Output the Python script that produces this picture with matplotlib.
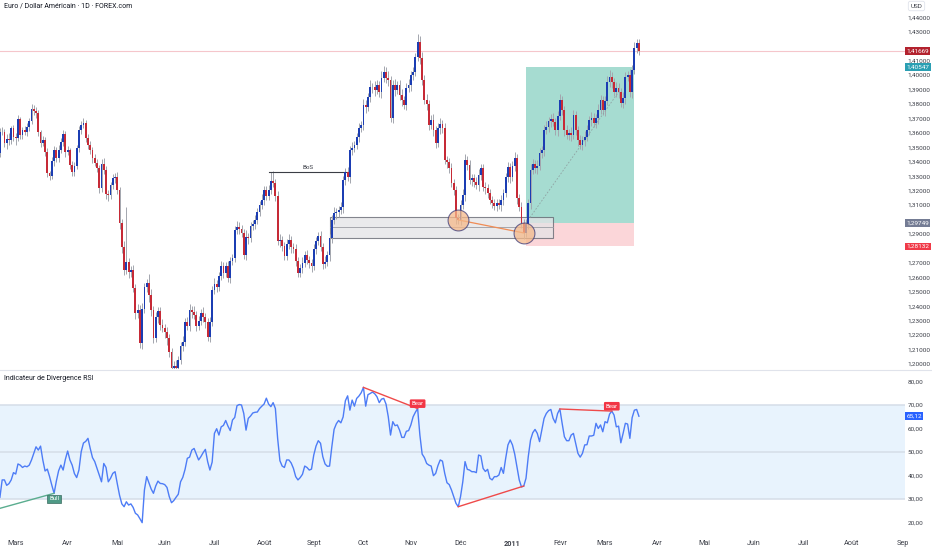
import numpy as np
import pandas as pd
import matplotlib
matplotlib.use("Agg")
import matplotlib.pyplot as plt
from matplotlib.lines import Line2D
from matplotlib.patches import Rectangle

plt.rcParams['font.family'] = ['Roboto', 'DejaVu Sans']

# daily EUR/USD candles, first one on 18 Feb 2010 (business days)
first_date = '2010-02-18'
first_open = 1.3463
closes = [
    1.3608, 1.3606, 1.3530, 1.3557, 1.3551, 1.3634, 1.3571, 1.3564, 1.3696, 1.3585,
    1.3620, 1.3606, 1.3641, 1.3682, 1.3765, 1.3751, 1.3738, 1.3606, 1.3530, 1.3551,
    1.3467, 1.3322, 1.3301, 1.3405, 1.3481, 1.3426, 1.3481, 1.3537, 1.3592, 1.3467,
    1.3481, 1.3377, 1.3329, 1.3370, 1.3495, 1.3620, 1.3654, 1.3668, 1.3564, 1.3516,
    1.3481, 1.3426, 1.3391, 1.3357, 1.3218, 1.3384, 1.3343, 1.3177, 1.3170, 1.3239,
    1.3287, 1.3294, 1.3204, 1.2976, 1.2810, 1.2650, 1.2706, 1.2636, 1.2650, 1.2526,
    1.2353, 1.2373, 1.2145, 1.2380, 1.2533, 1.2560, 1.2477, 1.2373, 1.2179, 1.2325,
    1.2366, 1.2269, 1.2249, 1.2221, 1.2179, 1.2082, 1.1972, 1.1985, 1.1972, 1.2027,
    1.2124, 1.2152, 1.2290, 1.2262, 1.2373, 1.2359, 1.2339, 1.2262, 1.2297, 1.2353,
    1.2325, 1.2290, 1.2186, 1.2290, 1.2512, 1.2553, 1.2533, 1.2609, 1.2678, 1.2630,
    1.2678, 1.2595, 1.2713, 1.2733, 1.2927, 1.2948, 1.2934, 1.2907, 1.2754, 1.2879,
    1.2872, 1.2955, 1.2969, 1.2997, 1.3052, 1.3100, 1.3135, 1.3204, 1.3163, 1.3204,
    1.3267, 1.3253, 1.3163, 1.2851, 1.2858, 1.2816, 1.2747, 1.2830, 1.2858, 1.2810,
    1.2796, 1.2713, 1.2630, 1.2664, 1.2699, 1.2754, 1.2720, 1.2699, 1.2678, 1.2796,
    1.2851, 1.2886, 1.2810, 1.2692, 1.2706, 1.2754, 1.2872, 1.2997, 1.3045, 1.3052,
    1.3066, 1.3087, 1.3274, 1.3329, 1.3294, 1.3481, 1.3495, 1.3516, 1.3571, 1.3634,
    1.3654, 1.3793, 1.3779, 1.3848, 1.3918, 1.3918, 1.3897, 1.3931, 1.3883, 1.3980,
    1.4021, 1.3980, 1.3966, 1.3703, 1.3931, 1.3897, 1.3931, 1.3862, 1.3828, 1.3793,
    1.3911, 1.3931, 1.4001, 1.4021, 1.4125, 1.4229, 1.4118, 1.3966, 1.3828, 1.3800,
    1.3654, 1.3689, 1.3620, 1.3530, 1.3634, 1.3661, 1.3634, 1.3412, 1.3398, 1.3357,
    1.3253, 1.3204, 1.3010, 1.2997, 1.3100, 1.3170, 1.3412, 1.3377, 1.3274, 1.3287,
    1.3260, 1.3239, 1.3308, 1.3357, 1.3225, 1.3218, 1.3184, 1.3135, 1.3114, 1.3093,
    1.3114, 1.3100, 1.3135, 1.3184, 1.3294, 1.3364, 1.3294, 1.3370, 1.3426, 1.3149,
    1.3087, 1.2976, 1.2907, 1.2969, 1.3114, 1.3343, 1.3384, 1.3357, 1.3370, 1.3460,
    1.3481, 1.3620, 1.3641, 1.3682, 1.3696, 1.3675, 1.3620, 1.3717, 1.3828, 1.3758,
    1.3620, 1.3585, 1.3599, 1.3585, 1.3724, 1.3620, 1.3551, 1.3516, 1.3551, 1.3571,
    1.3620, 1.3689, 1.3703, 1.3668, 1.3703, 1.3758, 1.3828, 1.3758, 1.3821, 1.3952,
    1.3987, 1.3952, 1.3883, 1.3911, 1.3883, 1.3807, 1.3841, 1.3987, 1.4001, 1.3883,
    1.4035, 1.4188, 1.4222, 1.41669,
]
# wick length above / below the body, in pips
wick_up = [
    25, 30, 20, 35, 40, 15, 20, 30, 25, 15, 20, 25, 30, 20, 35, 25, 30, 20, 15, 25,
    20, 25, 15, 30, 25, 20, 35, 25, 30, 20, 25, 15, 30, 25, 20, 30, 25, 35, 20, 25,
    30, 20, 25, 30, 20, 35, 40, 25, 30, 20, 25, 30, 35, 20, 30, 40, 380, 30, 25, 35,
    30, 40, 35, 45, 30, 25, 60, 45, 30, 35, 30, 25, 40, 30, 35, 30, 25, 35, 40, 30,
    25, 40, 30, 35, 45, 30, 40, 25, 35, 30, 40, 30, 25, 35, 30, 40, 25, 30, 35, 30,
    25, 35, 30, 25, 30, 40, 35, 30, 25, 45, 30, 25, 30, 35, 25, 30, 40, 30, 25, 35,
    64, 66, 30, 35, 40, 30, 25, 35, 40, 30, 25, 35, 30, 25, 40, 30, 35, 25, 30, 35,
    30, 25, 35, 30, 40, 25, 30, 35, 40, 25, 30, 35, 30, 25, 35, 30, 40, 30, 25, 35,
    30, 40, 35, 30, 45, 30, 40, 35, 30, 45, 40, 35, 50, 30, 35, 40, 30, 35, 40, 30,
    35, 40, 30, 35, 30, 55, 40, 45, 35, 40, 30, 35, 40, 30, 35, 40, 30, 35, 25, 30,
    35, 30, 25, 30, 35, 40, 45, 30, 35, 25, 30, 35, 40, 30, 25, 35, 30, 25, 30, 25,
    30, 25, 35, 30, 25, 35, 30, 35, 40, 30, 25, 35, 30, 35, 30, 40, 35, 30, 40, 35,
    30, 35, 40, 30, 35, 40, 30, 35, 40, 30, 25, 35, 30, 40, 35, 30, 25, 35, 30, 40,
    35, 30, 40, 35, 30, 40, 35, 30, 35, 40, 45, 35, 30, 40, 35, 30, 40, 35, 30, 40,
    35, 40, 30, 25,
]
wick_dn = [
    30, 20, 25, 40, 35, 25, 30, 45, 20, 25, 30, 20, 25, 30, 20, 25, 35, 25, 30, 20,
    30, 25, 30, 20, 35, 25, 30, 20, 25, 35, 20, 30, 25, 30, 20, 25, 30, 20, 25, 30,
    25, 35, 20, 30, 35, 25, 30, 35, 40, 30, 25, 35, 30, 40, 45, 35, 30, 40, 35, 30,
    45, 35, 35, 40, 30, 35, 45, 40, 35, 30, 40, 35, 30, 40, 45, 35, 40, 30, 35, 25,
    30, 35, 25, 30, 35, 40, 30, 35, 25, 30, 35, 40, 30, 35, 25, 30, 35, 30, 25, 35,
    30, 25, 35, 30, 25, 30, 35, 25, 30, 35, 40, 30, 25, 35, 30, 25, 30, 35, 25, 30,
    30, 25, 35, 30, 40, 35, 30, 25, 35, 40, 30, 35, 25, 30, 35, 25, 30, 35, 40, 30,
    35, 25, 30, 35, 30, 25, 40, 35, 30, 40, 35, 30, 45, 35, 30, 40, 35, 30, 25, 35,
    30, 35, 40, 30, 35, 40, 45, 30, 35, 40, 30, 35, 40, 30, 35, 45, 30, 35, 40, 30,
    35, 30, 40, 35, 30, 25, 40, 35, 30, 40, 35, 30, 40, 35, 30, 40, 35, 30, 40, 35,
    30, 35, 40, 25, 35, 30, 40, 35, 30, 40, 35, 30, 40, 35, 30, 40, 35, 30, 35, 30,
    35, 30, 40, 35, 30, 35, 40, 30, 35, 40, 30, 35, 45, 30, 35, 40, 30, 35, 40, 30,
    35, 40, 30, 35, 40, 30, 35, 40, 30, 35, 40, 30, 35, 40, 30, 35, 40, 30, 35, 40,
    30, 35, 40, 30, 35, 40, 30, 35, 40, 30, 35, 40, 30, 35, 40, 30, 35, 40, 30, 35,
    40, 30, 35, 30,
]
rsi = [
    30.6, 38.0, 38.0, 35.7, 36.4, 38.0, 41.1, 40.5, 44.8, 44.3,
    43.3, 43.9, 43.6, 44.3, 46.5, 49.3, 52.1, 50.7, 52.4, 46.5,
    41.8, 42.6, 39.4, 35.7, 32.3, 37.5, 41.9, 44.3, 42.2, 46.8,
    50.3, 46.5, 44.3, 40.7, 39.0, 42.2, 50.0, 53.7, 54.4, 55.7,
    51.4, 47.5, 45.8, 42.9, 40.1, 37.2, 45.0, 43.3, 37.2, 38.7,
    40.8, 41.5, 36.3, 31.4, 27.8, 26.6, 28.7, 27.3, 27.8, 26.3,
    23.8, 23.1, 21.5, 19.8, 33.7, 39.4, 36.8, 34.1, 32.3, 35.4,
    37.5, 36.5, 36.4, 36.0, 34.8, 30.9, 28.3, 29.2, 30.6, 31.9,
    37.2, 39.1, 42.5, 47.2, 47.7, 50.7, 51.4, 48.9, 46.5, 47.9,
    49.6, 51.0, 45.8, 42.2, 45.6, 57.8, 59.8, 57.1, 60.6, 61.2,
    63.3, 60.9, 59.0, 63.5, 64.6, 69.6, 70.1, 69.9, 66.3, 59.2,
    64.2, 65.2, 66.5, 66.8, 66.9, 68.4, 69.4, 70.3, 72.8, 70.3,
    69.2, 70.9, 68.4, 55.7, 46.2, 43.9, 43.3, 46.5, 46.5, 45.2,
    42.9, 39.4, 38.0, 39.0, 40.4, 43.9, 43.3, 42.2, 42.6, 48.6,
    52.4, 54.7, 53.6, 47.9, 44.8, 43.8, 43.9, 52.1, 59.5, 61.9,
    63.3, 62.3, 64.8, 71.7, 73.8, 67.7, 72.0, 69.4, 72.7, 73.7,
    75.1, 77.4, 69.4, 74.3, 74.8, 75.4, 74.7, 73.4, 70.9, 72.4,
    72.7, 70.3, 64.9, 57.1, 62.8, 61.1, 61.4, 59.2, 56.1, 56.1,
    58.7, 59.0, 61.4, 64.9, 66.8, 68.4, 57.1, 49.0, 47.5, 45.0,
    44.3, 43.9, 39.8, 40.8, 44.1, 46.5, 46.0, 40.8, 36.8, 36.0,
    33.7, 30.9, 28.0, 26.6, 30.9, 37.2, 45.8, 42.5, 42.2, 41.5,
    41.5, 41.1, 48.6, 48.2, 42.9, 41.6, 42.5, 38.7, 38.0, 39.4,
    39.4, 40.1, 43.3, 40.8, 47.2, 52.9, 55.0, 52.9, 49.0, 43.6,
    38.0, 35.0, 35.4, 38.7, 47.9, 55.0, 58.1, 59.5, 57.8, 54.3,
    59.2, 64.2, 66.3, 67.5, 68.0, 64.2, 62.3, 66.3, 68.2, 62.1,
    56.4, 54.7, 54.7, 57.1, 57.8, 53.6, 49.3, 47.7, 49.3, 52.9,
    53.0, 56.7, 56.7, 57.0, 62.1, 59.9, 61.4, 58.5, 62.8, 62.3,
    66.0, 67.3, 65.6, 60.6, 60.9, 53.8, 57.8, 62.1, 61.8, 55.7,
    64.5, 67.7, 68.0, 65.12,
]
month_labels = ['Mars', 'Avr', 'Mai', 'Juin', 'Juil', 'Août', 'Sept', 'Oct', 'Nov', 'Déc',
                '2011', 'Févr', 'Mars', 'Avr', 'Mai', 'Juin', 'Juil', 'Août', 'Sep']

current_price = 1.41669
take_profit = 1.40547
entry_price = 1.29749
stop_loss = 1.28132
rsi_last = 65.12

# drawings (bar index / price)
position_bars = (233, 281)
zone_bars = (146, 245)
zone_prices = (1.2874, 1.2946, 1.3020)
bos_bars = (119, 154)
bos_price = 1.3331
swing_low_bars = [203, 232]
dotted_end_bar = 274

# RSI divergences: start bar, start value, end bar, end value
div_i0 = [0, 161, 203, 248]
div_v0 = [25.9, 77.4, 26.6, 68.2]
div_i1 = [24, 185, 232, 271]
div_v1 = [32.3, 68.4, 35.4, 67.3]
div_kind = ['Bull', 'Bear', '', 'Bear']

UP = '#1b3db3'
DOWN = '#c62a36'
WICK = '#a3a6ae'
TXT = '#3b3e47'
AXFS = 4.6


def price_fmt(v):
    return f'{v:.5f}'.replace('.', ',')


def main():
    c = np.array(closes)
    o = np.concatenate([[first_open], c[:-1]])
    hi = np.maximum(o, c) + np.array(wick_up) / 10000
    lo = np.minimum(o, c) - np.array(wick_dn) / 10000
    x = np.arange(len(c))

    dates = pd.bdate_range(first_date, '2011-09-30')
    month_pos = [i for i in range(1, len(dates)) if dates[i].month != dates[i - 1].month]
    month_pos = month_pos[:len(month_labels)]

    fig = plt.figure(figsize=(9.32, 5.5), dpi=100)
    ax = fig.add_axes([0, 1 - 369 / 550, 905 / 932, 369 / 550])
    ax2 = fig.add_axes([0, 1 - 533 / 550, 905 / 932, 163 / 550], sharex=ax)

    # candles
    ax.vlines(x, lo, hi, color=WICK, lw=0.7, zorder=2)
    body_bot = np.minimum(o, c)
    body_h = np.maximum(np.abs(c - o), 0.0002)
    colors = np.where(c >= o, UP, DOWN)
    ax.bar(x, body_h, bottom=body_bot, width=0.8, color=colors, lw=0, zorder=3)

    ax.axhline(current_price, color='#f5c6cb', lw=0.8, zorder=1)

    # long position
    p0, p1 = position_bars
    ax.add_patch(Rectangle((p0, entry_price), p1 - p0, take_profit - entry_price,
                           facecolor='#a6dcd1', edgecolor='none', zorder=1))
    ax.add_patch(Rectangle((p0, stop_loss), p1 - p0, entry_price - stop_loss,
                           facecolor='#fbd6d9', edgecolor='none', zorder=1))
    ax.plot([p0, dotted_end_bar], [entry_price, c[dotted_end_bar]], ls=(0, (2, 2)),
            color='#8fa3a3', lw=0.6, zorder=2)

    # demand zone
    z0, z1 = zone_bars
    zb, zm, zt = zone_prices
    ax.add_patch(Rectangle((z0, zb), z1 - z0, zt - zb, facecolor='#e4e4e6', alpha=0.75,
                           edgecolor='#5d606b', lw=0.8, zorder=1.5))
    ax.plot([z0, z1], [zm, zm], color='#9a9ca3', lw=0.6, zorder=1.6)

    # break of structure
    ax.plot(bos_bars, [bos_price, bos_price], color='#3a3d45', lw=0.8, zorder=2)
    ax.text(sum(bos_bars) / 2, bos_price + 0.0012, 'BoS', fontsize=4.5, color=TXT,
            ha='center', va='bottom')

    # swing lows
    sx = swing_low_bars
    sy = [c[i] for i in sx]
    ax.plot(sx, sy, color='#f08c55', lw=0.9, zorder=4)
    ax.plot(sx, sy, 'o', ms=15, mfc='#f5b98a', mec='#3d3b78', mew=0.8, alpha=0.75, zorder=5)

    ax.set_ylim(1.19647, 1.4520)
    ax.set_xlim(0.04, 400.85)
    ax.yaxis.tick_right()
    tags = [(current_price, '#b3222e'), (take_profit, '#2b9fb3'),
            (entry_price, '#747c94'), (stop_loss, '#f03a48')]
    # price scale labels, the ones sitting under a price tag are hidden
    pticks = [t for t in np.arange(1.20, 1.4451, 0.01)
              if min(abs(t - v) for v, _ in tags) > 0.004]
    ax.set_yticks(pticks)
    ax.set_yticklabels([price_fmt(t) for t in pticks])
    ax.tick_params(axis='y', length=0, pad=2, labelsize=AXFS, labelcolor=TXT)
    ax.tick_params(axis='x', length=0, labelbottom=False)
    for s in ax.spines.values():
        s.set_visible(False)

    for val, col in tags:
        ax.annotate(price_fmt(val), xy=(1.0015, val),
                    xycoords=('axes fraction', 'data'), fontsize=AXFS, color='white',
                    va='center', ha='left', annotation_clip=False,
                    bbox=dict(boxstyle='square,pad=0.2', fc=col, ec='none'), zorder=10)

    # RSI panel
    ax2.axhspan(30, 70, color='#e8f3fd', lw=0, zorder=0)
    for lvl in (30, 50, 70):
        ax2.axhline(lvl, color='#d5dde8', lw=1.1, zorder=1)
    ax2.plot(x, rsi, color='#4d7cf6', lw=1.0, zorder=3)

    for i0, v0, i1, v1, kind in zip(div_i0, div_v0, div_i1, div_v1, div_kind):
        col = '#5aad8f' if kind == 'Bull' else '#ef4a4a'
        ax2.plot([i0, i1], [v0, v1], color=col, lw=1.0, zorder=4)
        if kind == 'Bull':
            ax2.annotate('Bull', xy=(i1, v1), xytext=(0, -4), textcoords='offset points',
                         fontsize=4.3, color='white', ha='center', va='center',
                         bbox=dict(boxstyle='square,pad=0.3', fc='#4f9a86', ec='#3a6b60', lw=0.5),
                         zorder=6)
        elif kind == 'Bear':
            ax2.annotate('Bear', xy=(i1, v1), xytext=(0, 3.5), textcoords='offset points',
                         fontsize=4.3, color='white', ha='center', va='center',
                         bbox=dict(boxstyle='round,pad=0.3,rounding_size=0.2', fc='#f23645', ec='none'),
                         zorder=6)

    ax2.set_ylim(15.4, 84.8)
    ax2.yaxis.tick_right()
    ax2.set_yticks(range(20, 81, 10))
    ax2.set_yticklabels([f'{v},00' for v in range(20, 81, 10)])
    ax2.tick_params(axis='y', length=0, pad=2, labelsize=AXFS, labelcolor=TXT)
    ax2.set_xticks(month_pos)
    ax2.set_xticklabels(month_labels)
    ax2.tick_params(axis='x', length=0, pad=5, labelsize=5.2, labelcolor=TXT)
    for lab in ax2.get_xticklabels():
        if lab.get_text() == '2011':
            lab.set_fontweight('bold')
    for s in ax2.spines.values():
        s.set_visible(False)
    ax2.annotate(f'{rsi_last:.2f}'.replace('.', ','), xy=(1.0015, rsi_last),
                 xycoords=('axes fraction', 'data'), fontsize=AXFS, color='white',
                 va='center', ha='left', annotation_clip=False,
                 bbox=dict(boxstyle='square,pad=0.2', fc='#2962ff', ec='none'), zorder=10)

    fig.add_artist(Line2D([0, 1], [1 - 369.5 / 550] * 2, color='#e0e3eb', lw=0.8))
    fig.text(0.004, 1 - 6 / 550, 'Euro / Dollar Américain · 1D · FOREX.com',
             fontsize=5, color='#131722', va='center', ha='left')
    fig.text(0.004, 1 - 378 / 550, 'Indicateur de Divergence RSI',
             fontsize=5, color='#131722', va='center', ha='left')
    fig.text(0.977, 1 - 6 / 550, 'USD', fontsize=4.6, color=TXT, va='center', ha='left',
             bbox=dict(boxstyle='round,pad=0.35,rounding_size=0.3', fc='white', ec='#e0e3eb', lw=0.6))

    fig.savefig('out.png', dpi=100)


if __name__ == "__main__":
    main()
